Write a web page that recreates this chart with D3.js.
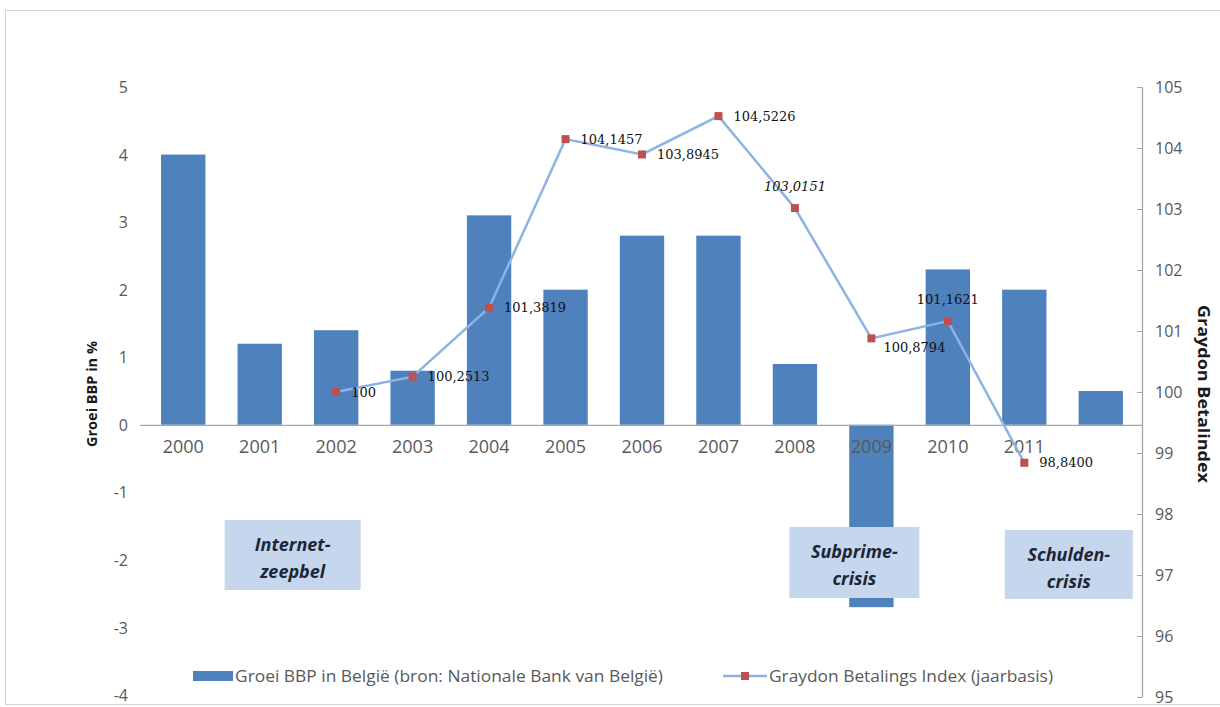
<!DOCTYPE html>
<html>
<head>
<meta charset="utf-8">
<script src="https://cdn.jsdelivr.net/npm/d3@7/dist/d3.min.js"></script>
<style>
  html, body { margin: 0; padding: 0; background: #fff; }
  svg { display: block; }
</style>
</head>
<body>
<svg id="chart" width="1220" height="707"></svg>
<script>
// Jaren op de categorie-as
const years = ["2000","2001","2002","2003","2004","2005","2006","2007","2008","2009","2010","2011","2012"];
const yearLabels = ["2000","2001","2002","2003","2004","2005","2006","2007","2008","2009","2010","2011",""];
// Groei BBP in België (%)
const gdpGrowth = [4.0, 1.2, 1.4, 0.8, 3.1, 2.0, 2.8, 2.8, 0.9, -2.7, 2.3, 2.0, 0.5];
// Graydon Betalings Index (jaarbasis)
const indexYears = ["2002","2003","2004","2005","2006","2007","2008","2009","2010","2011"];
const indexValues = [100, 100.2513, 101.3819, 104.1457, 103.8945, 104.5226, 103.0151, 100.8794, 101.1621, 98.84];
const indexLabels = ["100","100,2513","101,3819","104,1457","103,8945","104,5226","103,0151","100,8794","101,1621","98,8400"];
const indexLabelPlacement = ["right","right","right","right","right","right","above","belowright","above","right"];
// Tick waarden
const leftTicks = [5, 4, 3, 2, 1, 0, -1, -2, -3, -4];
const rightTicks = [105, 104, 103, 102, 101, 100, 99, 98, 97, 96, 95];
// Kaders met crisisperiodes
const crisisLines = [["Internet-", "zeepbel"], ["Subprime-", "crisis"], ["Schulden-", "crisis"]];
const crisisYear = ["2001", "2009", "2012"];

const svg = d3.select("#chart");
const font = "'Open Sans', 'Liberation Sans', sans-serif";
const axisGrey = "#595959";

// outer chart frame
svg.append("rect")
  .attr("x", 5.5).attr("y", 10.5).attr("width", 1240).attr("height", 694)
  .attr("fill", "#fff").attr("stroke", "#d4d4d4");

const x = d3.scaleBand().domain(years).range([145, 1139]).paddingInner(0.42).paddingOuter(0.21);
const yL = d3.scaleLinear().domain([-4, 5]).range([695, 87]);
const yR = d3.scaleLinear().domain([95, 105]).range([697, 87]);
const cx = d => x(d) + x.bandwidth() / 2;

// left axis labels (no axis line)
const leftAxis = d3.axisLeft(yL).tickValues(leftTicks).tickSize(0).tickPadding(0)
  .tickFormat(d => d3.format("d")(d).replace("−", "-"));
const gl = svg.append("g").attr("transform", "translate(128,0)").call(leftAxis);
gl.select(".domain").remove();
gl.selectAll("text").attr("font-family", font).attr("font-size", 16).attr("fill", axisGrey).attr("dy", "0.35em");

// bars
svg.append("g").selectAll("rect").data(gdpGrowth).join("rect")
  .attr("x", (d, i) => x(years[i]))
  .attr("y", d => yL(Math.max(0, d)))
  .attr("width", x.bandwidth())
  .attr("height", d => Math.abs(yL(d) - yL(0)))
  .attr("fill", "#4f81bd");

// zero line / category axis
const bottomAxis = d3.axisBottom(x).tickSize(0).tickPadding(15).tickFormat((d, i) => yearLabels[i]);
const gb = svg.append("g").attr("transform", `translate(0,${yL(0)})`).call(bottomAxis);
gb.select(".domain").attr("d", `M140,0.5H1142`).attr("stroke", "#a6a6a6").attr("stroke-width", 1.3);
gb.selectAll("text").attr("font-family", font).attr("font-size", 18).attr("fill", axisGrey);

// right axis
const rightAxis = d3.axisLeft(yR).tickValues(rightTicks).tickSize(5).tickSizeOuter(0).tickFormat(d3.format("d"));
const gr = svg.append("g").attr("transform", "translate(1142,0)").call(rightAxis);
gr.select(".domain").attr("stroke", "#a6a6a6").attr("stroke-width", 1.3);
gr.selectAll(".tick line").attr("stroke", "#a6a6a6");
gr.selectAll("text").attr("font-family", font).attr("font-size", 16).attr("fill", axisGrey)
  .attr("text-anchor", "start").attr("x", 13);

// axis titles
svg.append("text")
  .attr("transform", "translate(97,394) rotate(-90)")
  .attr("text-anchor", "middle").attr("font-family", font).attr("font-weight", "bold")
  .attr("font-size", 14.5).attr("fill", "#1a1a1a").text("Groei BBP in %");
svg.append("text")
  .attr("transform", "translate(1198,394) rotate(90)")
  .attr("text-anchor", "middle").attr("font-family", font).attr("font-weight", "bold")
  .attr("font-size", 16).attr("fill", "#1a1a1a")
  .attr("textLength", 178).attr("lengthAdjust", "spacingAndGlyphs")
  .text("Graydon Betalindex");

// crisis boxes
const boxW = [136, 130, 128], boxH = [70, 71, 69];
const boxTop = [520, 527, 530];
const boxShift = [33, -17, -32];
crisisLines.forEach((lines, i) => {
  const mid = cx(crisisYear[i]) + boxShift[i];
  const g = svg.append("g");
  g.append("rect").attr("x", mid - boxW[i] / 2).attr("y", boxTop[i])
    .attr("width", boxW[i]).attr("height", boxH[i]).attr("fill", "#c6d6ec");
  lines.forEach((t, k) => {
    g.append("text").attr("x", mid).attr("y", boxTop[i] + 31 + k * 27)
      .attr("text-anchor", "middle").attr("font-family", font).attr("font-weight", "bold")
      .attr("font-style", "italic").attr("font-size", 18).attr("fill", "#1c2636").text(t);
  });
});

// index line
const line = d3.line().x(d => cx(d[0])).y(d => yR(d[1]));
const pts = indexYears.map((yr, i) => [yr, indexValues[i]]);
svg.append("path").datum(pts).attr("d", line)
  .attr("fill", "none").attr("stroke", "#8db3e2").attr("stroke-width", 2.5);
svg.append("g").selectAll("rect").data(pts).join("rect")
  .attr("x", d => cx(d[0]) - 4).attr("y", d => yR(d[1]) - 4)
  .attr("width", 8).attr("height", 8).attr("fill", "#c0504d");

// data labels
const labelFont = "'DejaVu Serif', 'Liberation Serif', serif";
svg.append("g").selectAll("text").data(pts).join("text")
  .attr("x", (d, i) => {
    const p = indexLabelPlacement[i];
    return p === "above" ? cx(d[0]) : cx(d[0]) + (p === "belowright" ? 12 : 15);
  })
  .attr("y", (d, i) => {
    const p = indexLabelPlacement[i];
    return yR(d[1]) + (p === "above" ? -22 : p === "belowright" ? 9 : 0);
  })
  .attr("dy", "0.35em")
  .attr("text-anchor", (d, i) => indexLabelPlacement[i] === "above" ? "middle" : "start")
  .attr("font-style", (d, i) => indexYears[i] === "2008" ? "italic" : "normal")
  .attr("font-family", labelFont).attr("font-size", 13).attr("fill", "#111")
  .text((d, i) => indexLabels[i]);

// legend
const lg = svg.append("g");
lg.append("rect").attr("x", 193).attr("y", 671).attr("width", 40).attr("height", 10).attr("fill", "#4f81bd");
lg.append("text").attr("x", 235).attr("y", 676).attr("dy", "0.35em").attr("font-family", font)
  .attr("font-size", 17).attr("fill", axisGrey)
  .attr("textLength", 428).attr("lengthAdjust", "spacingAndGlyphs")
  .text("Groei BBP in België (bron: Nationale Bank van België)");
lg.append("line").attr("x1", 723).attr("x2", 767).attr("y1", 676).attr("y2", 676)
  .attr("stroke", "#8db3e2").attr("stroke-width", 2.5);
lg.append("rect").attr("x", 741).attr("y", 672).attr("width", 8).attr("height", 8).attr("fill", "#c0504d");
lg.append("text").attr("x", 769).attr("y", 676).attr("dy", "0.35em").attr("font-family", font)
  .attr("font-size", 17).attr("fill", axisGrey)
  .attr("textLength", 284).attr("lengthAdjust", "spacingAndGlyphs")
  .text("Graydon Betalings Index (jaarbasis)");
</script>
</body>
</html>
